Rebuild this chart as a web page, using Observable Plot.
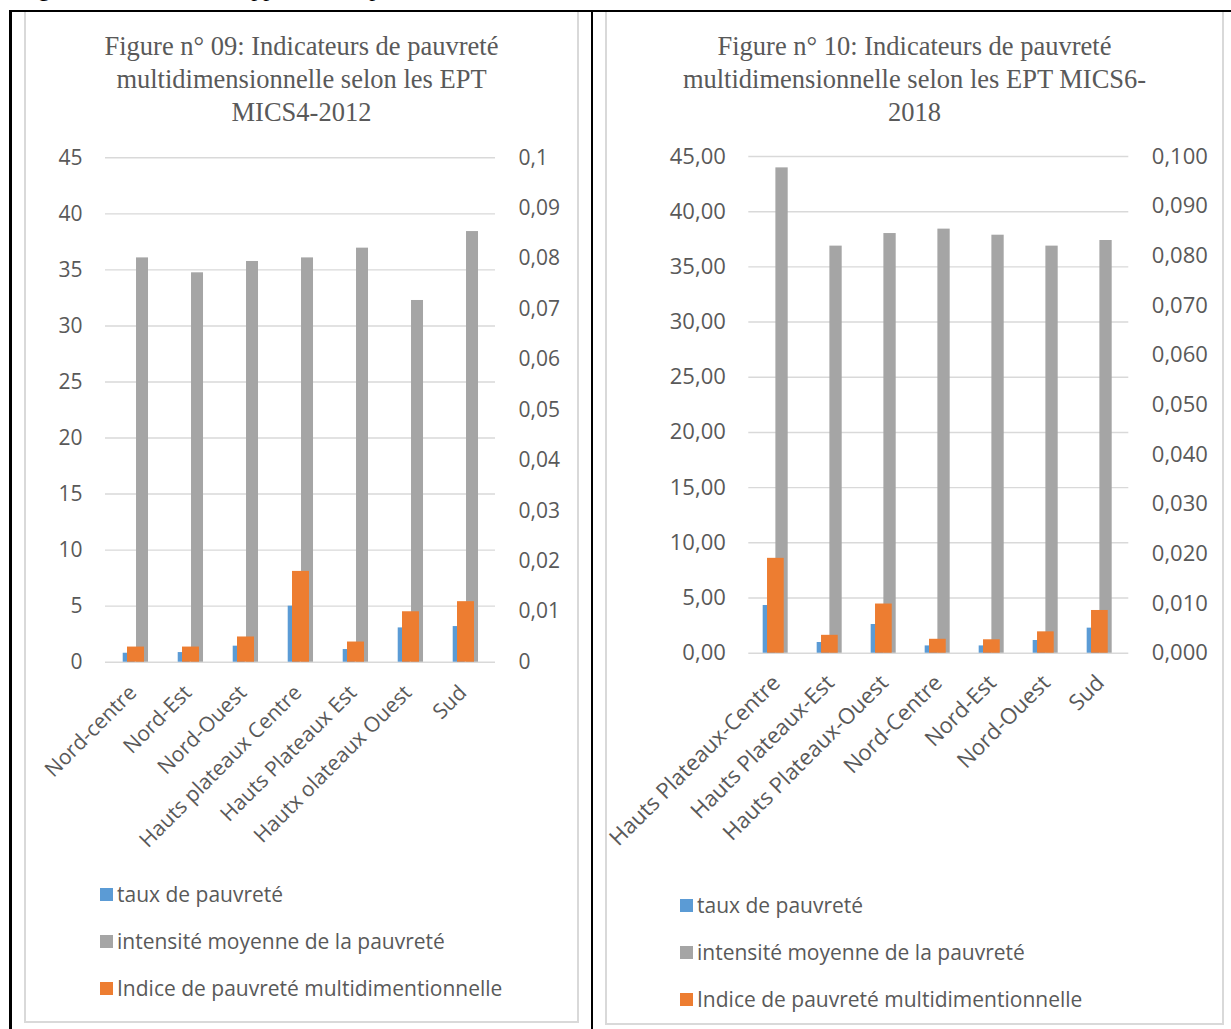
<!DOCTYPE html>
<html>
<head>
<meta charset="utf-8">
<script src="https://cdn.jsdelivr.net/npm/d3@7"></script>
<script src="https://cdn.jsdelivr.net/npm/@observablehq/plot@0.6"></script>
<style>
  html, body { margin: 0; padding: 0; background: #fff; }
  body { width: 1231px; height: 1029px; overflow: hidden; position: relative; }
  .abs { position: absolute; }
  .hdr { font-family: "Liberation Serif", "Times New Roman", serif; font-size: 24px; line-height: 24px; color: #000; white-space: nowrap; }
  .rule { background: #000; }
  .box { border: 2px solid #d9d9d9; border-top: none; box-sizing: border-box; }
  .title { font-family: "Liberation Serif", "Times New Roman", serif; font-size: 26.5px; line-height: 33px; color: #595959; text-align: center; white-space: nowrap; }
  .legend { font-family: "Open Sans", sans-serif; font-size: 21px; color: #595959; }
  .legrow { position: absolute; display: flex; align-items: center; white-space: nowrap; }
  .sw { width: 13px; height: 13px; margin-right: 4px; flex: none; }
</style>
</head>
<body>
<script>
// ---------- DATA ----------
const seriesNames = ["taux de pauvreté", "intensité moyenne de la pauvreté", "Indice de pauvreté multidimentionnelle"];
const seriesColors = ["#5B9BD5", "#A5A5A5", "#ED7D31"];

// Figure 09 (MICS4-2012)
const title09 = ["Figure n° 09: Indicateurs de pauvreté", "multidimensionnelle selon les EPT", "MICS4-2012"];
const cats09 = ["Nord-centre", "Nord-Est", "Nord-Ouest", "Hauts plateaux Centre", "Hauts Plateaux Est", "Hautx olateaux Ouest", "Sud"];
const taux09 = [0.80, 0.86, 1.43, 5.00, 1.13, 3.06, 3.18];
const intensite09 = [36.07, 34.74, 35.75, 36.07, 36.94, 32.27, 38.42];
const indice09 = [0.0030, 0.0030, 0.0050, 0.0180, 0.0040, 0.0100, 0.0120];
const yTicks09 = [0, 5, 10, 15, 20, 25, 30, 35, 40, 45];
const y2Ticks09 = [0, 0.01, 0.02, 0.03, 0.04, 0.05, 0.06, 0.07, 0.08, 0.09, 0.1];

// Figure 10 (MICS6-2018)
const title10 = ["Figure n° 10: Indicateurs de pauvreté", "multidimensionnelle selon les EPT MICS6-", "2018"];
const cats10 = ["Hauts Plateaux-Centre", "Hauts Plateaux-Est", "Hauts Plateaux-Ouest", "Nord-Centre", "Nord-Est", "Nord-Ouest", "Sud"];
const taux10 = [4.32, 0.97, 2.60, 0.66, 0.66, 1.15, 2.27];
const intensite10 = [43.97, 36.88, 38.02, 38.42, 37.87, 36.88, 37.39];
const indice10 = [0.0191, 0.0036, 0.0099, 0.0028, 0.0027, 0.0043, 0.0086];
const yTicks10 = [0, 5, 10, 15, 20, 25, 30, 35, 40, 45];
const y2Ticks10 = [0, 0.01, 0.02, 0.03, 0.04, 0.05, 0.06, 0.07, 0.08, 0.09, 0.1];

const headerText = "Figures 09 et 10 : Les rapports de la pauvreté";

// ---------- HELPERS ----------
const fr = d3.formatLocale({decimal: ",", thousands: "\u00a0", grouping: [3], currency: ["", " €"]});

function el(cls, style, html) {
  const d = document.createElement("div");
  d.className = cls;
  Object.assign(d.style, style);
  if (html != null) d.innerHTML = html;
  document.body.appendChild(d);
  return d;
}

function panel(o) {
  const yMax = d3.max(o.yTicks), y2Max = d3.max(o.y2Ticks);
  const k = yMax / y2Max; // secondary axis mapped onto primary scale
  const data = o.cats.map((c, i) => ({cat: c, taux: o.taux[i], intensite: o.intensite[i], indice: o.indice[i]}));
  const bw = (o.width - o.mL - o.mR) / o.cats.length;
  const chart = Plot.plot({
    width: o.width, height: o.height,
    marginLeft: o.mL, marginRight: o.mR, marginTop: o.mT, marginBottom: o.mB,
    style: {fontFamily: "'Open Sans', sans-serif", fontSize: o.fontSize, color: "#595959", background: "transparent", overflow: "visible"},
    x: {domain: o.cats, padding: 0, axis: null},
    y: {domain: [0, yMax], axis: null},
    marks: [
      Plot.gridY(o.yTicks, {stroke: "#d9d9d9", strokeOpacity: 1, strokeWidth: 1.4}),
      Plot.axisY(o.yTicks, {anchor: "left", label: null, tickSize: 0, tickPadding: 23, tickFormat: fr.format(o.yFmt), fill: "#595959"}),
      Plot.axisY(o.y2Ticks.map(t => t * k), {anchor: "right", label: null, tickSize: 0, tickPadding: 23, tickFormat: v => fr.format(o.y2Fmt)(v / k), fill: "#595959"}),
      Plot.barY(data, {x: "cat", y: "taux", fill: seriesColors[0], insetLeft: o.ins[0][0] * bw, insetRight: (1 - o.ins[0][1]) * bw}),
      Plot.barY(data, {x: "cat", y: "intensite", fill: seriesColors[1], insetLeft: o.ins[1][0] * bw, insetRight: (1 - o.ins[1][1]) * bw}),
      Plot.barY(data, {x: "cat", y: d => d.indice * k, fill: seriesColors[2], insetLeft: o.ins[2][0] * bw, insetRight: (1 - o.ins[2][1]) * bw}),
      Plot.axisX({anchor: "bottom", label: null, tickSize: 0, tickPadding: o.xPad, tickRotate: -45, textAnchor: "end", lineAnchor: "middle", dx: o.xDx, fill: "#595959"})
    ]
  });
  chart.style.position = "absolute";
  chart.style.left = o.left + "px";
  chart.style.top = o.top + "px";
  document.body.appendChild(chart);
}

// ---------- PAGE FRAME ----------
el("abs hdr", {left: "18px", top: "-24px"}, headerText);
el("abs rule", {left: "9px", top: "10px", width: "1222px", height: "2px"});
el("abs rule", {left: "9px", top: "10px", width: "3px", height: "1019px"});
el("abs rule", {left: "591px", top: "10px", width: "2px", height: "1019px"});

// chart areas
el("abs box", {left: "24px", top: "12px", width: "555px", height: "1011px"});
el("abs box", {left: "605px", top: "12px", width: "619px", height: "1013px"});

// titles
el("abs title", {left: "24px", top: "29.5px", width: "555px"}, title09.join("<br>"));
el("abs title", {left: "605px", top: "29.5px", width: "619px"}, title10.join("<br>"));

// ---------- CHARTS ----------
panel({
  cats: cats09, taux: taux09, intensite: intensite09, indice: indice09,
  yTicks: yTicks09, y2Ticks: y2Ticks09, yFmt: "~f", y2Fmt: ".2~f", fontSize: "21px",
  left: 25, top: 130, width: 553, height: 670, mL: 80, mR: 83, mT: 27.3, mB: 138.3,
  ins: [[0.264, 0.492], [0.503, 0.731], [0.341, 0.659]],
  xPad: 27, xDx: -3
});
panel({
  cats: cats10, taux: taux10, intensite: intensite10, indice: indice10,
  yTicks: yTicks10, y2Ticks: y2Ticks10, yFmt: ".2f", y2Fmt: ".3f", fontSize: "22px",
  left: 605, top: 130, width: 619, height: 740, mL: 143.3, mR: 95.7, mT: 26, mB: 217.3,
  ins: [[0.252, 0.486], [0.486, 0.718], [0.332, 0.645]],
  xPad: 26, xDx: 0
});

// ---------- LEGENDS ----------
function legend(x, ys) {
  seriesNames.forEach((n, i) => {
    const r = el("legend legrow", {left: x + "px", top: (ys[i] - 14) + "px", height: "28px"});
    const s = document.createElement("span"); s.className = "sw"; s.style.background = seriesColors[i];
    const t = document.createElement("span"); t.textContent = n;
    r.appendChild(s); r.appendChild(t);
  });
}
legend(100, [894, 941, 988]);
legend(680, [905, 952, 999]);
</script>
</body>
</html>
